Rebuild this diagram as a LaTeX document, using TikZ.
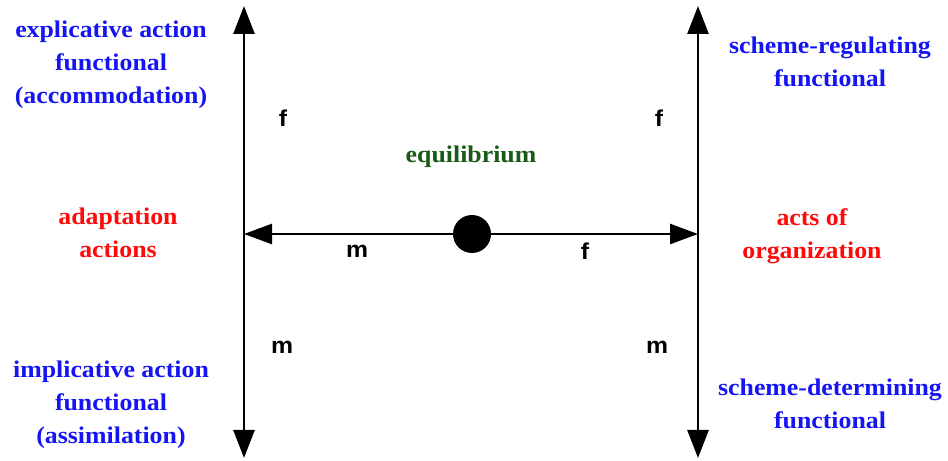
\documentclass[tikz,border=0pt]{standalone}
\usepackage{fontspec}
\setmainfont{Liberation Serif}[FakeStretch=1.08]
\newfontfamily\labelfont{Liberation Sans}[FakeStretch=1.08]
\usetikzlibrary{arrows.meta}
\definecolor{tblue}{RGB}{20,20,245}
\definecolor{tred}{RGB}{255,10,10}
\definecolor{tgreen}{RGB}{25,90,25}
\tikzset{
  txt/.style={align=center, inner sep=0pt, font=\fontsize{24}{33}\selectfont\bfseries},
  bluetxt/.style={txt, text=tblue},
  redtxt/.style={txt, text=tred},
  greentxt/.style={txt, text=tgreen},
  lbl/.style={inner sep=0pt, font=\labelfont\fontsize{23}{26}\selectfont\bfseries},
  axis/.style={line width=2.6bp, {Triangle[length=28bp,width=21bp]}-{Triangle[length=28bp,width=21bp]}},
  ray/.style={line width=2.6bp, -{Triangle[length=28bp,width=20bp]}},
  dotnode/.style={circle, fill=black, inner sep=0pt, minimum size=38bp}
}
\begin{document}
\begin{tikzpicture}[x=1bp,y=-1bp]
\useasboundingbox (0,0) rectangle (948,461);
% axes
\coordinate (lt) at (244,6);
\coordinate (lb) at (244,458);
\coordinate (rt) at (698,6);
\coordinate (rb) at (698,458);
\coordinate (lm) at (244,234);
\coordinate (rm) at (698,234);
\node[dotnode] (eq) at (472,234) {};
\draw[axis] (lb) -- (lt);
\draw[axis] (rb) -- (rt);
\draw[ray] (eq) -- (lm);
\draw[ray] (eq) -- (rm);
% texts
\node[bluetxt] (expl) at (111,65) {explicative action\\functional\\(accommodation)};
\node[redtxt] (adapt) at (118,233) {adaptation\\actions};
\node[bluetxt] (impl) at (111,405) {implicative action\\functional\\(assimilation)};
\node[bluetxt] (sreg) at (830,62) {scheme-regulating\\functional};
\node[redtxt] (org) at (812,236) {acts of\\organization};
\node[bluetxt] (sdet) at (830,404) {scheme-determining\\functional};
\node[greentxt] (eqlbl) at (471,157) {equilibrium};
% letters
\node[lbl] (f1) at (283,118) {f};
\node[lbl] (f2) at (659,118) {f};
\node[lbl] (m1) at (357,251) {m};
\node[lbl] (f3) at (585,251) {f};
\node[lbl] (m2) at (282,347) {m};
\node[lbl] (m3) at (657,347) {m};
\end{tikzpicture}
\end{document}
